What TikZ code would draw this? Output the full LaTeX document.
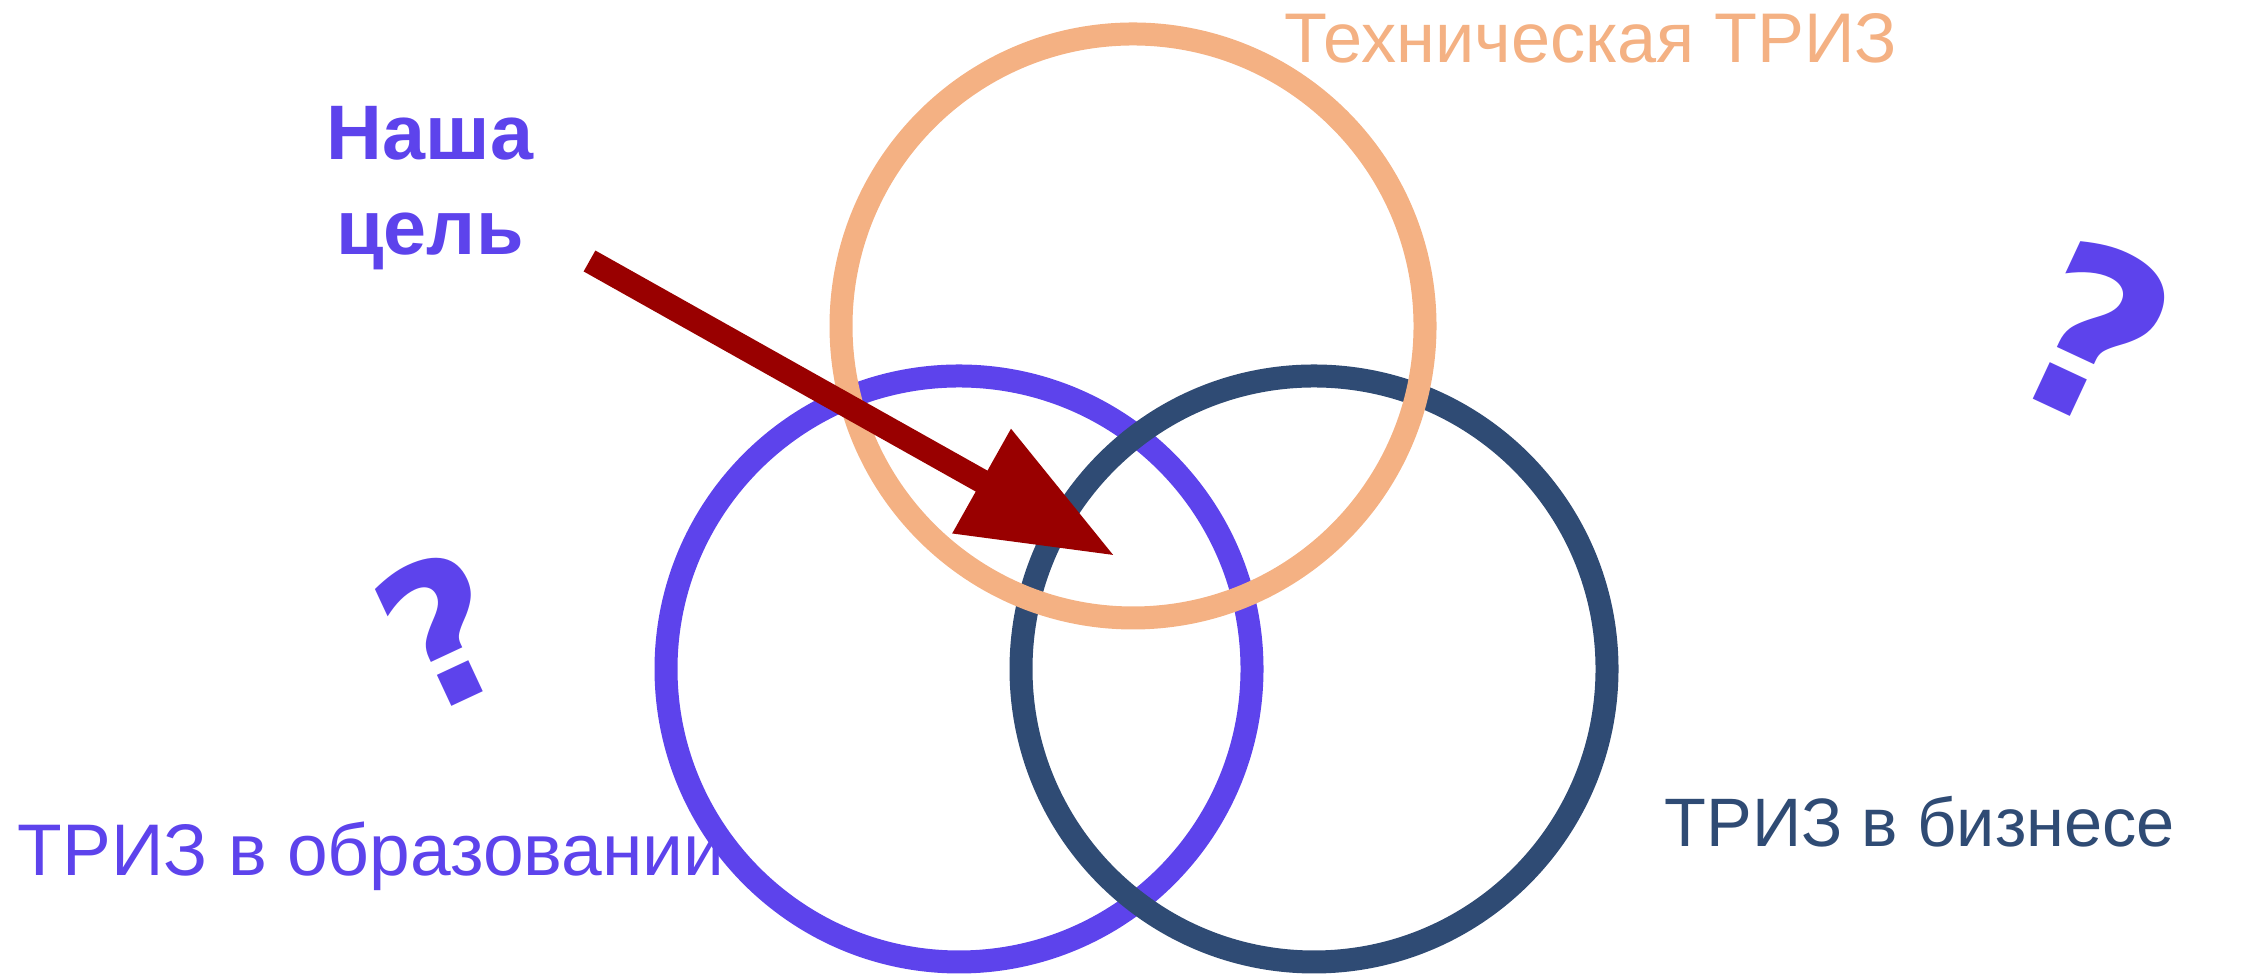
\documentclass[tikz,border=0pt]{standalone}
\usepackage{fontspec}
\setmainfont{Liberation Sans}
\newfontfamily\qmarkfont{DejaVu Sans}
\usetikzlibrary{arrows.meta}
\definecolor{trizviolet}{HTML}{5D43EC}
\definecolor{trizorange}{HTML}{F4B183}
\definecolor{trizblue}{HTML}{2F4B74}
\definecolor{goalred}{HTML}{990000}
\tikzset{
  ring/.style={line width=0.23cm},
  areatext/.style={inner sep=0pt, font=\fontsize{#1}{#1}\selectfont},
  goaltext/.style={trizviolet, inner sep=0pt, align=center, font=\fontsize{22}{27.3}\selectfont\bfseries},
  qmark/.style={trizviolet, inner sep=0pt, font=\qmarkfont\bfseries\fontsize{#1}{#1}\selectfont},
  goalarrow/.style={goalred, line width=0.24cm, -{Triangle[length=1.53cm,width=1.13cm]}}
}

\begin{document}
\begin{tikzpicture}[line join=round, >=Latex]
\useasboundingbox (0,0) rectangle (22.44,9.74);
% three circles
\draw[ring, trizviolet] (9.59,3.05) circle (2.93);
\draw[ring, trizblue] (13.14,3.05) circle (2.93);
\draw[ring, trizorange] (11.33,6.48) circle (2.92);
% labels
\node[areatext=20.8, trizviolet, anchor=base west] (edu) at (0.17,0.98) {ТРИЗ в образовании};
\node[areatext=19.5, trizblue, anchor=base west] (biz) at (16.64,1.27) {ТРИЗ в бизнесе};
\node[areatext=20, trizorange, anchor=base east] (tech) at (18.98,9.11) {Техническая ТРИЗ};
\node[goaltext, anchor=base] (goal) at (4.30,7.19) {Наша\\цель};
% question marks
\node[qmark=56, rotate=25] (qleft) at (4.42,3.44) {?};
\node[qmark=66, rotate=-25] (qright) at (20.95,6.41) {?};
% arrow to the middle
\coordinate (goalfrom) at (5.895,7.13);
\coordinate (goalto) at (11.15,4.18);
\draw[goalarrow] (goalfrom) -- (goalto);
\end{tikzpicture}
\end{document}
